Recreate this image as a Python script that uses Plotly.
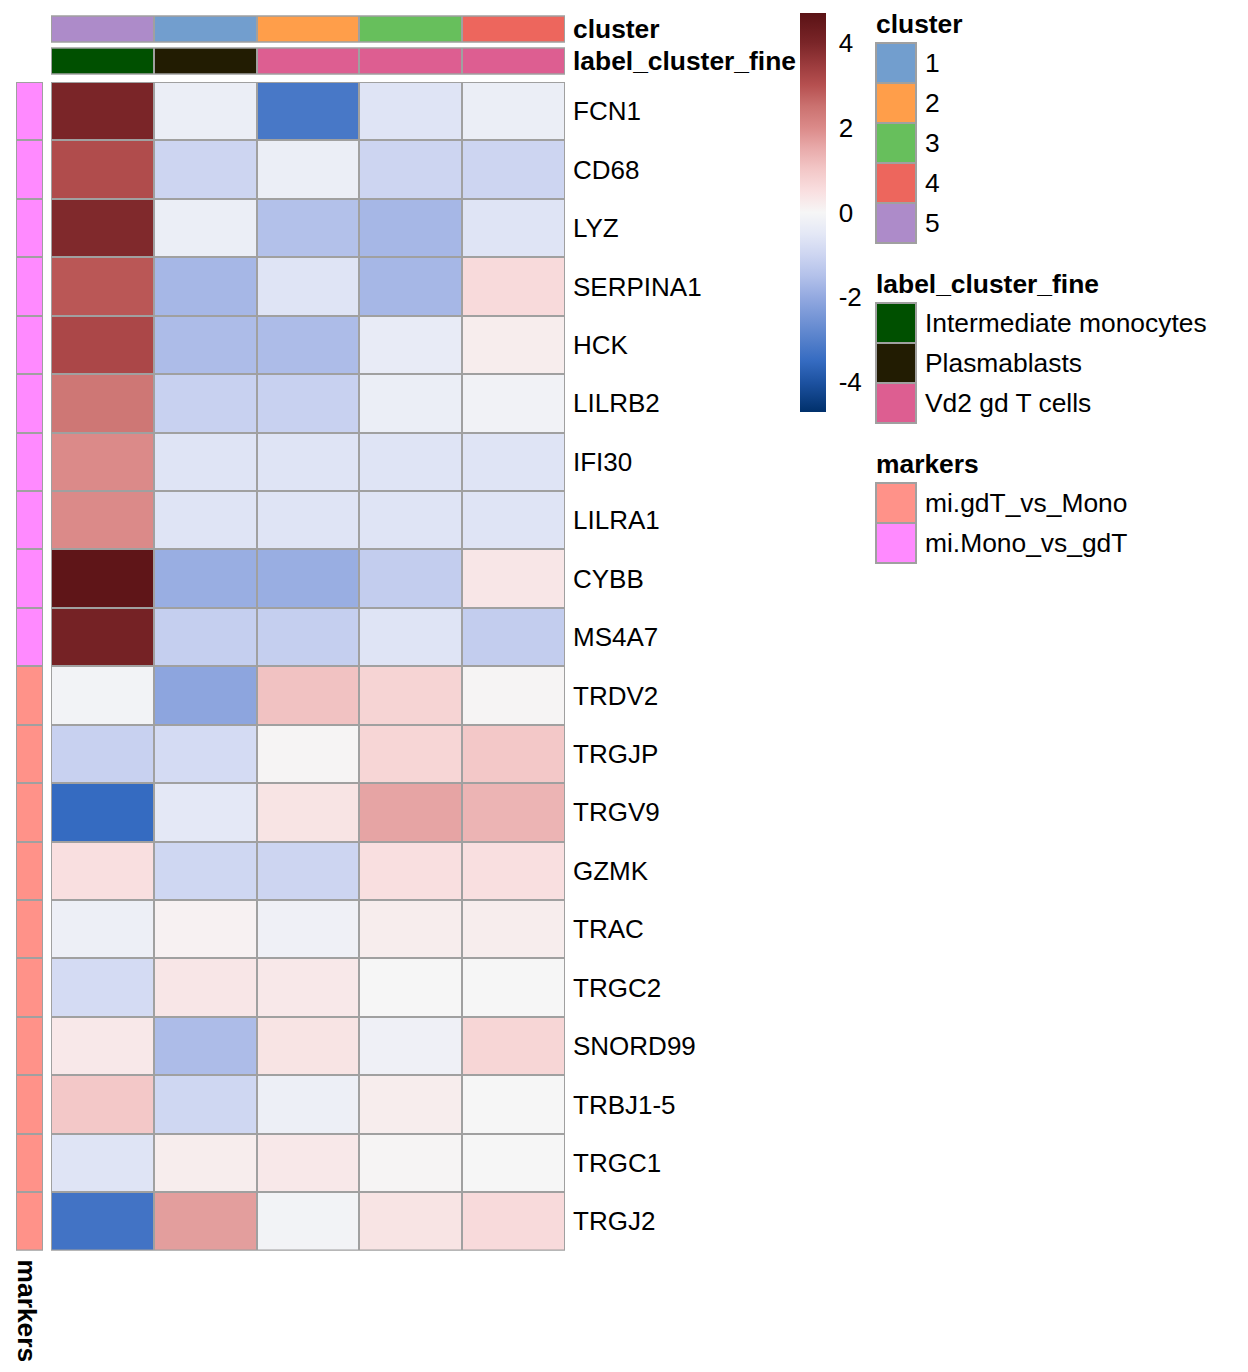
import plotly.graph_objects as go

W, H = 1248, 1372
OFF = 8  # page body margin offset compensation
APAD = 2  # annotation inner padding compensation

genes = ["FCN1", "CD68", "LYZ", "SERPINA1", "HCK", "LILRB2", "IFI30", "LILRA1",
         "CYBB", "MS4A7", "TRDV2", "TRGJP", "TRGV9", "GZMK", "TRAC", "TRGC2",
         "SNORD99", "TRBJ1-5", "TRGC1", "TRGJ2"]
col_clusters = ["5", "1", "2", "3", "4"]
col_fine = ["Intermediate monocytes", "Plasmablasts", "Vd2 gd T cells",
            "Vd2 gd T cells", "Vd2 gd T cells"]
row_markers = ["mi.Mono_vs_gdT"] * 10 + ["mi.gdT_vs_Mono"] * 10

values = [
    [4.0, -0.3, -3.2, -0.6, -0.3],
    [3.1, -1.0, -0.3, -1.0, -1.0],
    [3.9, -0.3, -1.5, -1.7, -0.6],
    [2.9, -1.7, -0.6, -1.7, 0.6],
    [3.2, -1.6, -1.6, -0.4, 0.2],
    [2.4, -1.1, -1.1, -0.3, -0.15],
    [2.0, -0.6, -0.6, -0.6, -0.6],
    [2.0, -0.6, -0.6, -0.6, -0.6],
    [4.6, -1.9, -1.9, -1.2, 0.35],
    [4.1, -1.15, -1.15, -0.6, -1.2],
    [-0.1, -2.1, 1.1, 0.75, 0.05],
    [-1.1, -0.85, 0.05, 0.7, 1.0],
    [-3.5, -0.5, 0.4, 1.6, 1.35],
    [0.5, -0.95, -1.0, 0.5, 0.5],
    [-0.25, 0.1, -0.2, 0.2, 0.2],
    [-0.85, 0.35, 0.3, 0.0, 0.0],
    [0.3, -1.6, 0.4, -0.2, 0.7],
    [1.0, -0.95, -0.25, 0.2, 0.0],
    [-0.6, 0.2, 0.3, 0.05, 0.0],
    [-3.3, 1.7, -0.1, 0.4, 0.6],
]

cluster_levels = ["1", "2", "3", "4", "5"]
cluster_colors = ["#729ECE", "#FF9E4A", "#67BF5C", "#ED665D", "#AD8BC9"]
fine_levels = ["Intermediate monocytes", "Plasmablasts", "Vd2 gd T cells"]
fine_colors = ["#005000", "#221C02", "#DD5E91"]
marker_levels = ["mi.gdT_vs_Mono", "mi.Mono_vs_gdT"]
marker_colors = ["#FF9289", "#FF8AFF"]

zlim = 4.7
scale_stops = [
    (-4.7, "#00306b"), (-4.0, "#1d52a1"), (-3.5, "#356bc1"), (-3.0, "#5580cb"),
    (-2.0, "#93a9e0"), (-1.5, "#b3c1ea"), (-1.0, "#cdd5f1"), (-0.5, "#e4e8f6"),
    (0.0, "#f6f6f6"), (0.5, "#f9dfe0"), (1.0, "#f3c8c8"), (1.5, "#e9abab"),
    (2.0, "#db8a89"), (2.5, "#cb7270"), (3.0, "#b65050"), (3.5, "#9a3a3c"),
    (4.0, "#7a2528"), (4.7, "#5a1215"),
]
colorscale = [[(v + zlim) / (2 * zlim), c] for v, c in scale_stops]

GRID = "#a0a0a0"
FONT = "Liberation Sans, Arial, sans-serif"
FS = 26
FSA = 26.4
FSB = 26.4


def px_x(x):
    return (x - OFF) / W


def px_y(y):
    return 1 - (y - OFF) / H


def disc_scale(colors):
    n = len(colors)
    return [[i / (n - 1), c] for i, c in enumerate(colors)]


fig = go.Figure()

nrow, ncol = len(genes), len(col_clusters)

# main heatmap
fig.add_trace(go.Heatmap(
    z=values, x=list(range(ncol)), y=list(range(nrow)),
    colorscale=colorscale, zmin=-zlim, zmax=zlim, xgap=2, ygap=2,
    xaxis="x", yaxis="y",
    colorbar=dict(
        x=px_x(800), xanchor="left", y=px_y(13), yanchor="top",
        lenmode="pixels", len=399, thickness=26, thicknessmode="pixels",
        xpad=0, ypad=0, outlinewidth=0,
        tickvals=[-4, -2, 0, 2, 4], ticktext=["-4", "-2", "0", "2", "4"],
        ticks="outside", ticklen=8, tickcolor="rgba(0,0,0,0)",
        tickfont=dict(family=FONT, size=FS, color="black"),
    ),
))

# top annotation: cluster
fig.add_trace(go.Heatmap(
    z=[[cluster_levels.index(c) for c in col_clusters]], x=list(range(ncol)), y=[0],
    colorscale=disc_scale(cluster_colors), zmin=0, zmax=len(cluster_levels) - 1,
    showscale=False, xgap=2, ygap=2, xaxis="x", yaxis="y2",
))
# top annotation: label_cluster_fine
fig.add_trace(go.Heatmap(
    z=[[fine_levels.index(c) for c in col_fine]], x=list(range(ncol)), y=[0],
    colorscale=disc_scale(fine_colors), zmin=0, zmax=len(fine_levels) - 1,
    showscale=False, xgap=2, ygap=2, xaxis="x", yaxis="y3",
))
# row annotation: markers
fig.add_trace(go.Heatmap(
    z=[[marker_levels.index(m)] for m in row_markers], x=[0], y=list(range(nrow)),
    colorscale=disc_scale(marker_colors), zmin=0, zmax=len(marker_levels) - 1,
    showscale=False, xgap=2, ygap=2, xaxis="x2", yaxis="y",
))

noax = dict(showgrid=False, zeroline=False, showticklabels=False, ticks="", showline=False)

fig.update_layout(
    width=W, height=H, margin=dict(l=0, r=0, t=0, b=0),
    paper_bgcolor="white", plot_bgcolor=GRID, showlegend=False,
    font=dict(family=FONT, size=FS, color="black"),
    xaxis=dict(domain=[px_x(51), px_x(565)], range=[-0.5, ncol - 0.5], **noax),
    xaxis2=dict(domain=[px_x(16), px_x(43)], range=[-0.5, 0.5], **noax),
    yaxis=dict(domain=[px_y(1250.5), px_y(82)], range=[nrow - 0.5, -0.5],
               showgrid=False, zeroline=False, showline=False, ticks="",
               side="right", anchor="x", tickvals=list(range(nrow)), ticktext=genes,
               ticklabelstandoff=7,
               tickfont=dict(family=FONT, size=FS, color="black")),
    yaxis2=dict(domain=[px_y(42.5), px_y(15.5)], range=[-0.5, 0.5], anchor="x", **noax),
    yaxis3=dict(domain=[px_y(74.5), px_y(47.5)], range=[-0.5, 0.5], anchor="x", **noax),
)

shapes = []
for yref, y0, y1, xref, x0, x1 in [
    ("y", -0.5, nrow - 0.5, "x", -0.5, ncol - 0.5),
    ("y2", -0.5, 0.5, "x", -0.5, ncol - 0.5),
    ("y3", -0.5, 0.5, "x", -0.5, ncol - 0.5),
    ("y", -0.5, nrow - 0.5, "x2", -0.5, 0.5),
]:
    shapes.append(dict(type="rect", xref=xref, yref=yref, x0=x0, x1=x1, y0=y0, y1=y1,
                       line=dict(color=GRID, width=2), fillcolor="rgba(0,0,0,0)"))

annotations = [
    dict(text="<b>cluster</b>", x=px_x(573 - APAD), y=px_y(29), xref="paper", yref="paper",
         xanchor="left", yanchor="middle", showarrow=False, font=dict(size=FSB)),
    dict(text="<b>label_cluster_fine</b>", x=px_x(573 - APAD), y=px_y(61), xref="paper",
         yref="paper", xanchor="left", yanchor="middle", showarrow=False, font=dict(size=FSB)),
    dict(text="<b>markers</b>", x=px_x(27), y=px_y(1257), xref="paper", yref="paper",
         xanchor="center", yanchor="top", showarrow=False, textangle=90, font=dict(size=FSB)),
]

key_x0, key_x1, lab_x = 876, 916, 925
legend_groups = [
    ("cluster", 24, 43, cluster_levels, cluster_colors),
    ("label_cluster_fine", 284, 303, fine_levels, fine_colors),
    ("markers", 464, 483, marker_levels, marker_colors),
]
for title, ty, ky, levels, colors in legend_groups:
    annotations.append(dict(text=f"<b>{title}</b>", x=px_x(key_x0 - APAD), y=px_y(ty),
                            xref="paper", yref="paper", xanchor="left", yanchor="middle",
                            showarrow=False, font=dict(size=FSB)))
    for i, (lev, col) in enumerate(zip(levels, colors)):
        y0 = ky + 40 * i
        shapes.append(dict(type="rect", xref="paper", yref="paper",
                           x0=px_x(key_x0), x1=px_x(key_x1), y0=px_y(y0), y1=px_y(y0 + 40),
                           fillcolor=col, line=dict(color=GRID, width=2)))
        annotations.append(dict(text=lev, x=px_x(lab_x - APAD), y=px_y(y0 + 20),
                                xref="paper", yref="paper", xanchor="left", yanchor="middle",
                                showarrow=False, font=dict(size=FSA)))

fig.update_layout(shapes=shapes, annotations=annotations)
fig.write_html("out.html")
